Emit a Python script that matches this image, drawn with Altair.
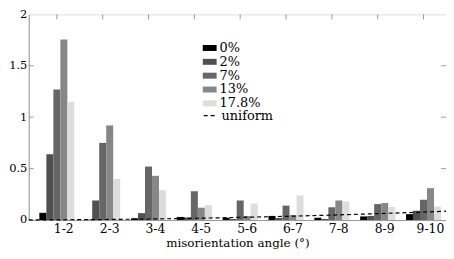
import altair as alt
import pandas as pd

categories = ["1-2", "2-3", "3-4", "4-5", "5-6", "6-7", "7-8", "8-9", "9-10"]
series = ["0%", "2%", "7%", "13%", "17.8%"]
colors = ["#000000", "#505050", "#666666", "#878787", "#dddddd"]

v0 = [0.07, 0.004, 0.016, 0.03, 0.022, 0.04, 0.022, 0.035, 0.057]
v2 = [0.64, 0.19, 0.067, 0.025, 0.01, 0.02, 0.01, 0.04, 0.09]
v7 = [1.27, 0.75, 0.52, 0.28, 0.19, 0.14, 0.124, 0.155, 0.197]
v13 = [1.755, 0.92, 0.43, 0.12, 0.04, 0.048, 0.19, 0.165, 0.31]
v178 = [1.15, 0.40, 0.29, 0.145, 0.16, 0.24, 0.18, 0.127, 0.13]

uniform_angle = [0.84, 1.5, 2.5, 3.5, 4.5, 5.5, 6.5, 7.5, 8.5, 9.5, 10.0]
uniform_value = [0.001, 0.002, 0.005, 0.010, 0.017, 0.026, 0.036, 0.048, 0.062, 0.077, 0.086]

y_ticks = [0.5, 1.0, 1.5]

rows = []
for s, vals in zip(series, [v0, v2, v7, v13, v178]):
    for c, v in zip(categories, vals):
        rows.append({"cat": c, "series": s, "value": v})
bars_df = pd.DataFrame(rows)
cat_df = pd.DataFrame({"cat": categories})
line_df = pd.DataFrame({"angle": uniform_angle, "value": uniform_value, "kind": ["uniform"] * len(uniform_angle)})
tick_df = pd.DataFrame({"v": y_ticks})

FONT = "DejaVu Serif"
GRAY = "#999999"
W = 422

x_scale = alt.Scale(type="band", domain=categories, paddingInner=0.236, paddingOuter=0.17, align=0.68)
y_scale = alt.Scale(domain=[0, 2], nice=False)

bars = alt.Chart(bars_df).mark_bar().encode(
    x=alt.X("cat:N", scale=x_scale, sort=categories,
            axis=alt.Axis(title="misorientation angle (°)", labelAngle=0, tickSize=0,
                          labelOffset=7, labelPadding=3, labelFont=FONT, labelFontSize=12.5,
                          titleFont=FONT, titleFontSize=12, titleFontWeight="normal",
                          titlePadding=2, domainColor=GRAY, labelColor="#000", titleColor="#000")),
    xOffset=alt.XOffset("series:N", sort=series, scale=alt.Scale(domain=series, paddingInner=0, paddingOuter=0)),
    y=alt.Y("value:Q", scale=y_scale,
            axis=alt.Axis(title=None, values=[0, 0.5, 1, 1.5, 2], format="~g", tickSize=0,
                          labelPadding=2, labelFont=FONT, labelFontSize=11.5, grid=False,
                          domainColor=GRAY, labelColor="#000")),
    color=alt.Color("series:N", sort=series, scale=alt.Scale(domain=series, range=colors),
                    legend=alt.Legend(title=None, orient="none", legendX=176, legendY=27,
                                      symbolType="M-1,-0.43L1,-0.43L1,0.43L-1,0.43Z",
                                      symbolSize=196, symbolStrokeWidth=0, labelFont=FONT,
                                      labelFontSize=13, rowPadding=0, labelOffset=3,
                                      padding=0, labelColor="#000")),
)

top_ticks = alt.Chart(cat_df).mark_rule(color=GRAY).encode(
    x=alt.X("cat:N", scale=x_scale, sort=categories),
    y=alt.value(0), y2=alt.value(5),
)

left_ticks = alt.Chart(tick_df).mark_rule(color=GRAY).encode(
    y=alt.Y("v:Q", scale=y_scale), x=alt.value(0), x2=alt.value(5),
)
right_ticks = alt.Chart(tick_df).mark_rule(color=GRAY).encode(
    y=alt.Y("v:Q", scale=y_scale), x=alt.value(W - 5), x2=alt.value(W),
)

line = alt.Chart(line_df).mark_line(color="black", strokeWidth=1.2).encode(
    x=alt.X("angle:Q", scale=alt.Scale(domain=[0.84, 10.0], nice=False, zero=False), axis=None),
    y=alt.Y("value:Q", scale=y_scale),
    strokeDash=alt.StrokeDash("kind:N", scale=alt.Scale(domain=["uniform"], range=[[4, 3]]),
                              legend=alt.Legend(title=None, orient="none", legendX=176, legendY=94.5,
                                                symbolType="stroke", symbolSize=196,
                                                symbolStrokeColor="black", symbolStrokeWidth=1.2,
                                                symbolDash=[3, 3], labelFont=FONT, labelFontSize=13,
                                                labelOffset=3, padding=0, labelColor="#000")),
)

inner = alt.layer(bars, top_ticks, left_ticks, right_ticks)
chart = alt.layer(inner, line).resolve_scale(x="independent").properties(
    width=W, height=208,
    autosize=alt.AutoSizeParams(type="none"),
    padding={"left": 21, "top": 5, "right": 0, "bottom": 40},
).configure_view(stroke=GRAY, strokeWidth=1).configure(background="white", font=FONT)

chart.save("out.html", embed_options={"renderer": "svg", "actions": False})
